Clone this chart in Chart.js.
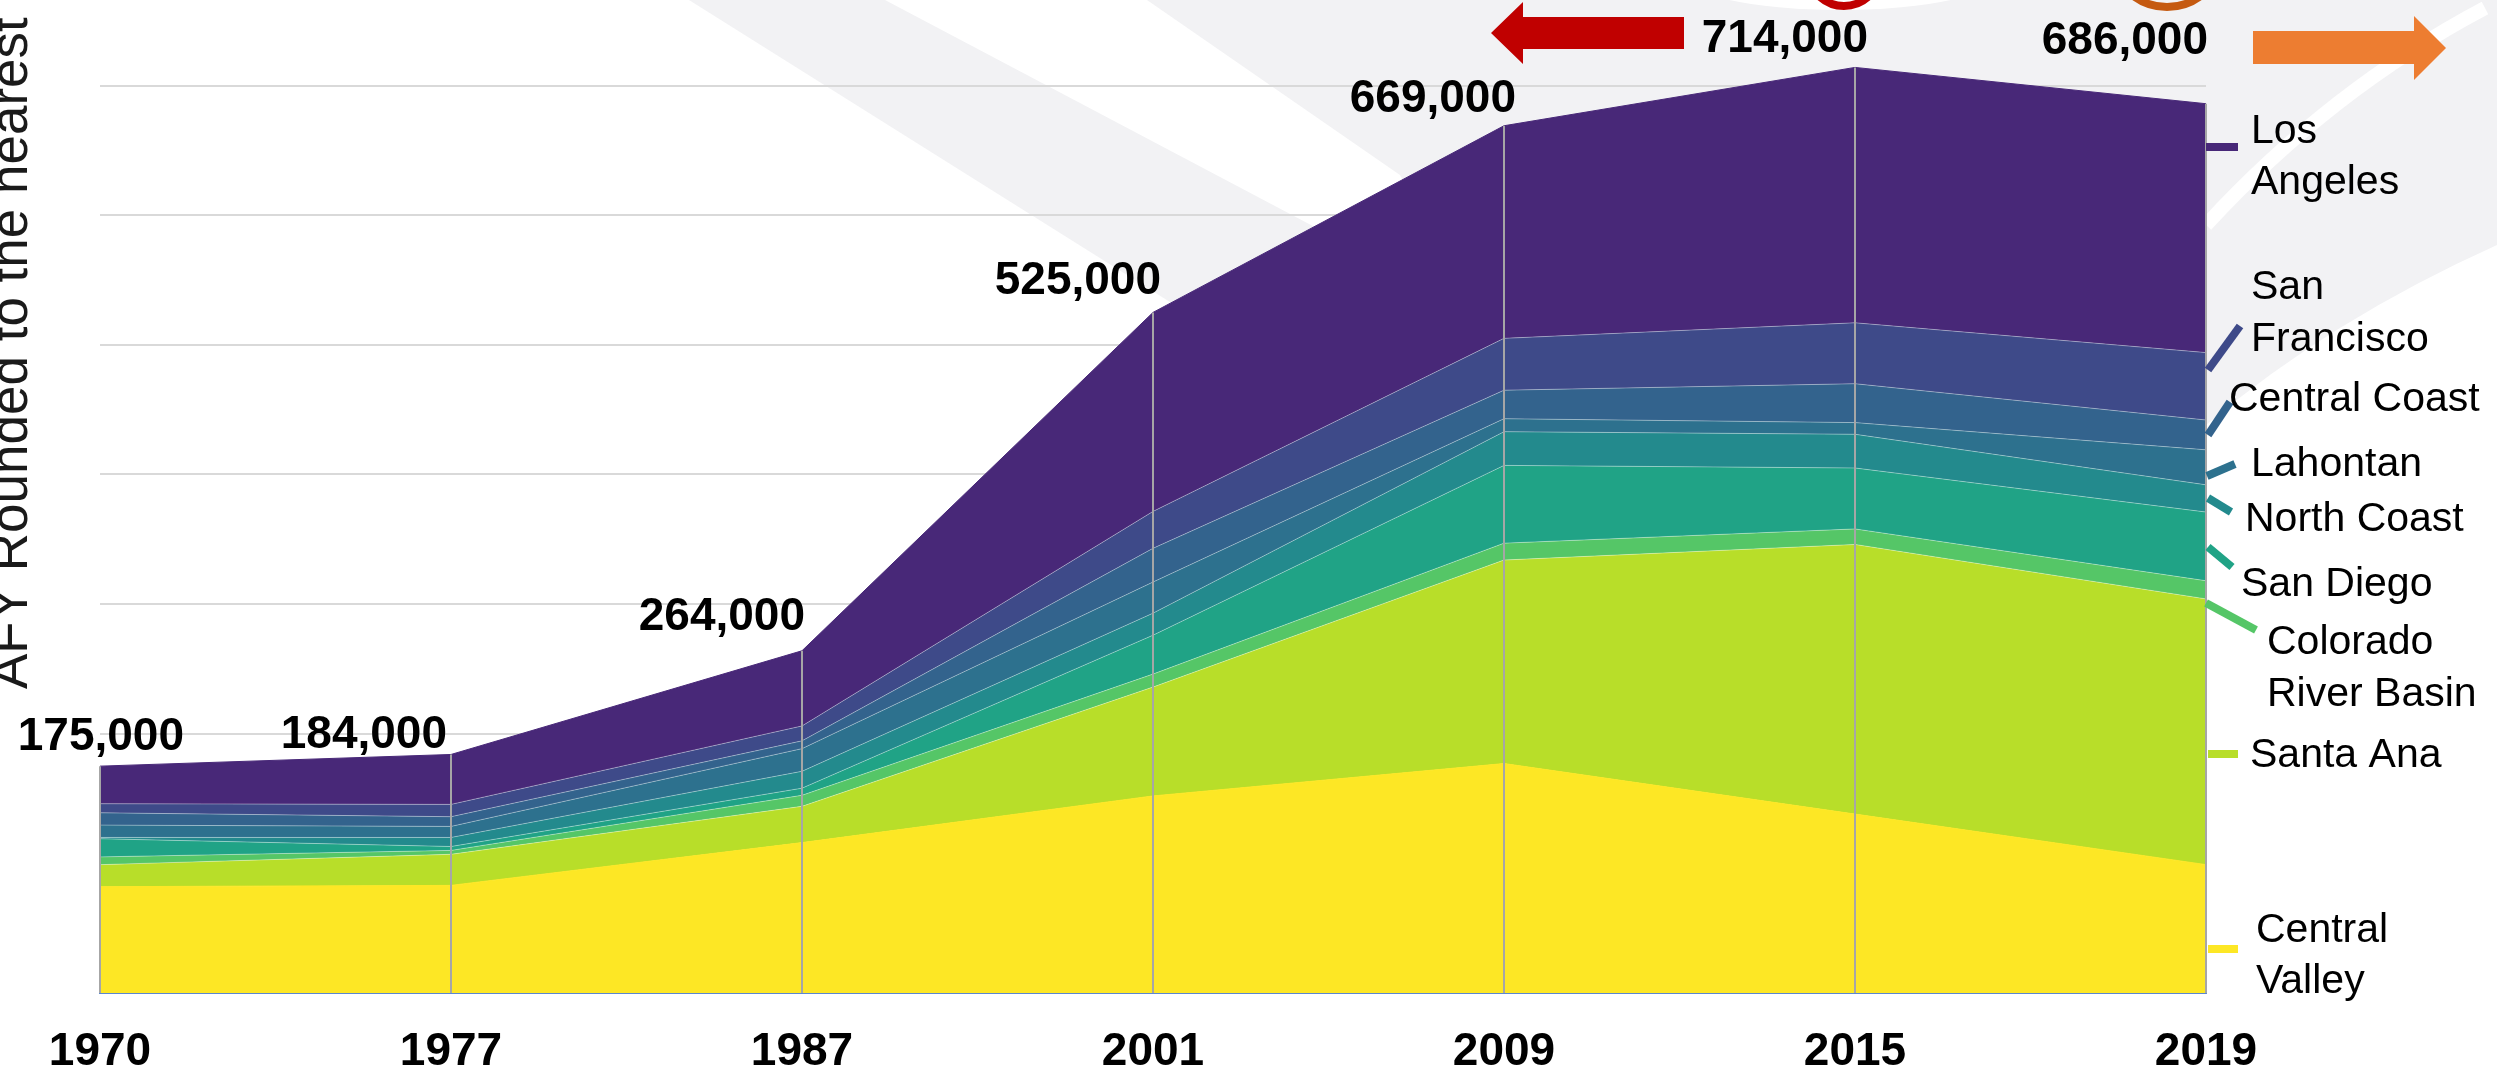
<!DOCTYPE html>
<html>
<head>
<meta charset="utf-8">
<script src="https://cdn.jsdelivr.net/npm/chart.js@4.4.1/dist/chart.umd.min.js"></script>
<style>
  html, body { margin: 0; padding: 0; background: #fff; overflow: hidden; }
  #wrap { width: 2497px; height: 1080px; }
</style>
</head>
<body>
<div id="wrap"><canvas id="demandChart" width="2497" height="1080"></canvas></div>
<script>
// Years on the x axis
const years = ["1970", "1977", "1987", "2001", "2009", "2015", "2019"];

// Regions, bottom layer first
const regions = ["Central Valley", "Santa Ana", "Colorado River Basin", "San Diego", "North Coast",
                 "Lahontan", "Central Coast", "San Francisco", "Los Angeles"];

// AFY per region
const centralValley = [82000, 83000, 116000, 152000, 177000, 138000, 99000];
const santaAna      = [17000, 24000, 28000, 84000, 157000, 208000, 205000];
const coloradoRiver = [6000, 3000, 8500, 10000, 13000, 12000, 14000];
const sanDiego      = [14000, 3000, 5500, 30000, 60000, 47000, 53000];
const northCoast    = [1000, 7000, 13000, 17000, 26000, 26000, 21000];
const lahontan      = [9500, 8500, 17500, 24000, 10000, 9000, 27000];
const centralCoast  = [9500, 7500, 6000, 26000, 22000, 30000, 23000];
const sanFrancisco  = [7000, 9500, 11500, 28500, 40000, 47000, 52000];
const losAngeles    = [29000, 38500, 58000, 153500, 164000, 197000, 192000];

// horizontal gridline values (no tick labels shown)
const gridValues = [0, 100000, 200000, 300000, 400000, 500000, 600000, 700000];

const series = [centralValley, santaAna, coloradoRiver, sanDiego, northCoast,
                lahontan, centralCoast, sanFrancisco, losAngeles];
const colors = ["#FDE725", "#B8DE29", "#55C667", "#20A386", "#238A8D",
                "#2D718E", "#33638D", "#3E4A89", "#482878"];

const FONT = "'Liberation Sans', Arial, sans-serif";

// where the total labels sit relative to the top of each stack
const labelLift = [29, 19, 33, 31, 26, 28, 62];
const labelShift = [84, -4, 3, 8, 12, 13, 2];

// right-hand labels with their leader lines
const sideLabels = [
    { lines: ["Los", "Angeles"], x: 2251, y: [132, 183], lead: [2206, 147, 2238, 147] },
    { lines: ["San", "Francisco"], x: 2251, y: [288, 340], lead: [2208, 370, 2240, 326] },
    { lines: ["Central Coast"], x: 2229, y: [400], lead: [2208, 435, 2230, 402] },
    { lines: ["Lahontan"], x: 2251, y: [465], lead: [2207, 476, 2235, 464] },
    { lines: ["North Coast"], x: 2245, y: [520], lead: [2208, 498, 2231, 512] },
    { lines: ["San Diego"], x: 2241, y: [585], lead: [2208, 547, 2232, 567] },
    { lines: ["Colorado", "River Basin"], x: 2267, y: [643, 695], lead: [2206, 603, 2256, 630] },
    { lines: ["Santa Ana"], x: 2250, y: [756], lead: [2208, 754, 2238, 754] },
    { lines: ["Central", "Valley"], x: 2256, y: [931, 982], lead: [2208, 949, 2238, 949] }
];
const sideOrder = [8, 7, 6, 5, 4, 3, 2, 1, 0];

// grey swooshes behind the chart
const backdrop = {
    id: "backdrop",
    beforeDraw(chart) {
        const ctx = chart.ctx;
        ctx.save();
        ctx.fillStyle = "#fff";
        ctx.fillRect(0, 0, chart.width, chart.height);
        ctx.fillStyle = "#F2F2F4";
        ctx.beginPath();
        ctx.moveTo(689, 0);
        ctx.lineTo(885, 0);
        ctx.lineTo(1345, 243);
        ctx.lineTo(1205, 324);
        ctx.closePath();
        ctx.fill();
        ctx.beginPath();
        ctx.moveTo(1147, 0);
        ctx.lineTo(2497, 0);
        ctx.lineTo(2497, 245);
        ctx.quadraticCurveTo(2330, 320, 2206, 425);
        ctx.lineTo(1600, 425);
        ctx.lineTo(1430, 230);
        ctx.lineTo(1400, 175);
        ctx.closePath();
        ctx.fill();
        ctx.strokeStyle = "#fff";
        ctx.lineWidth = 14;
        ctx.beginPath();
        ctx.moveTo(2485, 8);
        ctx.quadraticCurveTo(2330, 90, 2206, 225);
        ctx.stroke();
        ctx.fillStyle = "#fff";
        ctx.beginPath();
        ctx.ellipse(1840, -26, 160, 36, 0, 0, Math.PI * 2);
        ctx.fill();
        ctx.restore();
    }
};

// drop lines at every year and the total above each stack
const totals = {
    id: "totals",
    afterDatasetsDraw(chart) {
        const ctx = chart.ctx;
        const x = chart.scales.x, y = chart.scales.y;
        ctx.save();
        ctx.strokeStyle = "#A6A6A6";
        ctx.lineWidth = 2;
        ctx.font = "bold 46px " + FONT;
        ctx.fillStyle = "#000";
        ctx.textAlign = "right";
        ctx.textBaseline = "middle";
        years.forEach((yr, i) => {
            const sum = series.reduce((s, d) => s + d[i], 0);
            const px = x.getPixelForValue(i);
            const top = y.getPixelForValue(sum);
            ctx.beginPath();
            ctx.moveTo(px, y.getPixelForValue(0));
            ctx.lineTo(px, top);
            ctx.stroke();
            ctx.fillText(Math.round(sum / 1000).toLocaleString("en-US") + ",000", px + labelShift[i], top - labelLift[i]);
        });
        ctx.restore();
    }
};

const annotations = {
    id: "annotations",
    afterDraw(chart) {
        const ctx = chart.ctx;
        ctx.save();
        // y axis title, rotated
        ctx.translate(27, 689);
        ctx.rotate(-Math.PI / 2);
        ctx.font = "53px " + FONT;
        ctx.fillStyle = "#1a1a1a";
        ctx.textAlign = "left";
        ctx.textBaseline = "alphabetic";
        ctx.fillText("AFY Rounded to the nearest", 0, 0);
        ctx.restore();

        ctx.save();
        ctx.font = "41px " + FONT;
        ctx.fillStyle = "#000";
        ctx.textAlign = "left";
        ctx.textBaseline = "middle";
        ctx.lineWidth = 8;
        sideLabels.forEach((lab, k) => {
            ctx.strokeStyle = colors[sideOrder[k]];
            ctx.beginPath();
            ctx.moveTo(lab.lead[0], lab.lead[1]);
            ctx.lineTo(lab.lead[2], lab.lead[3]);
            ctx.stroke();
            lab.lines.forEach((t, j) => ctx.fillText(t, lab.x, lab.y[j]));
        });

        // arrows and the shapes cut off at the top edge
        ctx.fillStyle = "#C00000";
        ctx.beginPath();
        ctx.moveTo(1491, 33);
        ctx.lineTo(1523, 2);
        ctx.lineTo(1523, 17);
        ctx.lineTo(1684, 17);
        ctx.lineTo(1684, 49);
        ctx.lineTo(1523, 49);
        ctx.lineTo(1523, 64);
        ctx.closePath();
        ctx.fill();
        ctx.fillStyle = "#ED7D31";
        ctx.beginPath();
        ctx.moveTo(2253, 31);
        ctx.lineTo(2414, 31);
        ctx.lineTo(2414, 16);
        ctx.lineTo(2446, 48);
        ctx.lineTo(2414, 80);
        ctx.lineTo(2414, 64);
        ctx.lineTo(2253, 64);
        ctx.closePath();
        ctx.fill();
        ctx.lineWidth = 8;
        ctx.strokeStyle = "#C55A11";
        ctx.beginPath();
        ctx.arc(2167, -49, 56, 0, Math.PI);
        ctx.stroke();
        ctx.strokeStyle = "#C00000";
        ctx.beginPath();
        ctx.arc(1844, -30, 36, 0, Math.PI);
        ctx.stroke();
        ctx.restore();
    }
};

new Chart(document.getElementById("demandChart"), {
    type: "line",
    data: {
        labels: years,
        datasets: series.map((d, i) => ({
            label: regions[i],
            data: d,
            backgroundColor: colors[i],
            fill: i === 0 ? "origin" : "-1",
            borderColor: (i === 0 || i === series.length - 1) ? colors[i] : "rgba(255,255,255,0.35)",
            borderWidth: 1,
            pointRadius: 0,
            tension: 0
        }))
    },
    options: {
        responsive: false,
        animation: false,
        layout: { padding: { left: 0, right: 291, top: 0, bottom: 0 } },
        plugins: {
            legend: { display: false },
            tooltip: { enabled: false }
        },
        scales: {
            x: {
                offset: false,
                grid: { display: false, drawTicks: false },
                border: { display: true, color: "#5B87CF", width: 2 },
                ticks: {
                    font: { family: FONT, size: 46, weight: "bold" },
                    color: "#000",
                    padding: 32,
                    maxRotation: 0,
                    autoSkip: false
                },
                afterFit(scale) { scale.height = 87; }
            },
            y: {
                stacked: true,
                min: 0,
                max: 766000,
                ticks: { display: false },
                afterBuildTicks(scale) {
                    scale.ticks = gridValues.map(v => ({ value: v }));
                },
                grid: {
                    color: c => c.tick && c.tick.value === 0 ? "rgba(0,0,0,0)" : "#D9D9D9",
                    lineWidth: 2,
                    drawTicks: false
                },
                border: { display: false },
                afterFit(scale) { scale.width = 100; }
            }
        }
    },
    plugins: [backdrop, totals, annotations]
});
</script>
</body>
</html>
